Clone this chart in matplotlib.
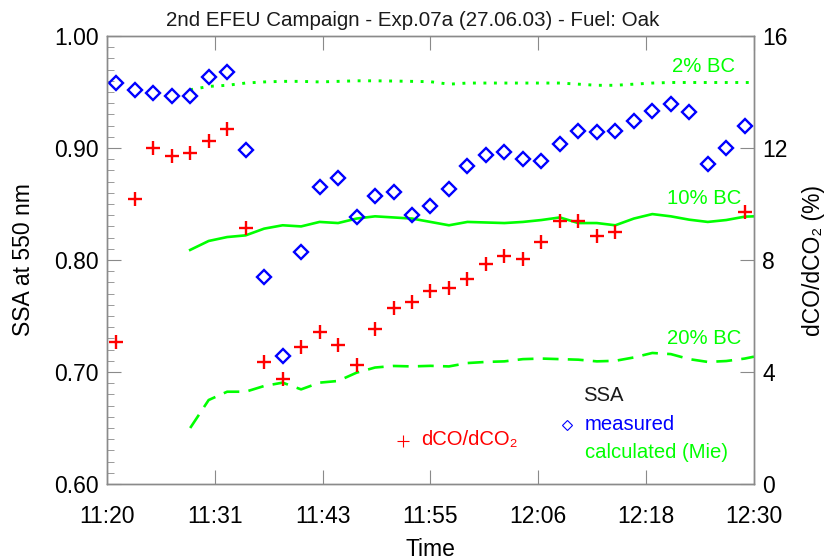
import matplotlib
matplotlib.use("Agg")
import matplotlib.pyplot as plt
import numpy as np

plt.rcParams['font.family'] = ['Liberation Sans', 'DejaVu Sans']

# time in minutes after 11:20
t_meas = [1, 3, 5, 7, 9, 11, 13, 15, 17, 19, 21, 23, 25, 27, 29, 31, 33, 35,
          37, 39, 41, 43, 45, 47, 49, 51, 53, 55, 57, 59, 61, 63, 65, 67, 69]
ssa_meas = [0.958, 0.952, 0.949, 0.946, 0.946, 0.963, 0.968, 0.898, 0.785, 0.714,
            0.807, 0.865, 0.873, 0.838, 0.857, 0.861, 0.840, 0.848, 0.863, 0.884,
            0.894, 0.896, 0.890, 0.888, 0.904, 0.915, 0.914, 0.915, 0.924, 0.933,
            0.939, 0.932, 0.886, 0.900, 0.920]

t_ratio = [1, 3, 5, 7, 9, 11, 13, 15, 17, 19, 21, 23, 25, 27, 29, 31, 33, 35,
           37, 39, 41, 43, 45, 47, 49, 51, 53, 55, 69]
co_ratio = [5.06, 10.17, 11.99, 11.71, 11.81, 12.26, 12.68, 9.13, 4.37, 3.74,
            4.88, 5.44, 4.96, 4.25, 5.54, 6.27, 6.51, 6.90, 7.00, 7.32,
            7.85, 8.15, 8.04, 8.63, 9.40, 9.40, 8.87, 9.01, 9.73]

t_mie = [9, 11, 13, 15, 17, 19, 21, 23, 25, 27, 29, 31, 33, 35, 37, 39, 41, 43,
         45, 47, 49, 51, 53, 55, 57, 59, 61, 63, 65, 67, 69, 70]
mie_2 = [0.952, 0.955, 0.956, 0.958, 0.959, 0.9595, 0.9595, 0.959, 0.9595, 0.960,
         0.960, 0.9598, 0.9595, 0.9592, 0.957, 0.958, 0.958, 0.958, 0.958, 0.958,
         0.958, 0.957, 0.956, 0.956, 0.957, 0.958, 0.9585, 0.9585, 0.9585, 0.9585,
         0.9585, 0.9585]
mie_10 = [0.809, 0.817, 0.8205, 0.822, 0.828, 0.831, 0.830, 0.834, 0.833, 0.837,
          0.839, 0.838, 0.837, 0.834, 0.831, 0.834, 0.8335, 0.833, 0.834, 0.8357,
          0.838, 0.833, 0.833, 0.831, 0.837, 0.841, 0.839, 0.836, 0.834, 0.8357,
          0.8387, 0.839]
mie_20 = [0.650, 0.675, 0.6824, 0.6824, 0.6875, 0.6905, 0.6845, 0.6905, 0.692, 0.6994,
          0.704, 0.7054, 0.705, 0.7055, 0.705, 0.708, 0.709, 0.7095, 0.7115, 0.712,
          0.7115, 0.711, 0.7095, 0.710, 0.713, 0.717, 0.716, 0.7115, 0.709, 0.7098,
          0.712, 0.7137]

time_labels = ['11:20', '11:31', '11:43', '11:55', '12:06', '12:18', '12:30']

fig = plt.figure(figsize=(8.25, 5.6), dpi=100)
ax = fig.add_axes([0.1297, 0.1357, 0.7842, 0.8000])
ax2 = ax.twinx()

green = '#00ff00'
ax.plot(t_mie, mie_2, color=green, lw=2.1, linestyle=(0, (1, 2.6)))
ax.plot(t_mie, mie_10, color=green, lw=1.9, linestyle='-')
ax.plot(t_mie, mie_20, color=green, lw=1.9, linestyle=(0, (6, 3.5)))
ax.plot(t_meas, ssa_meas, linestyle='none', marker='D', markersize=7,
        markerfacecolor='none', markeredgecolor='#0000ff', markeredgewidth=1.7)

ax2.plot(t_ratio, co_ratio, linestyle='none', marker='+', markersize=9.5,
         color='#ff0000', markeredgewidth=1.7)

ax.set_xlim(0, 70)
ax.set_ylim(0.6, 1.0)
ax2.set_ylim(0, 16)

ax.set_xticks(np.linspace(0, 70, 7))
ax.set_xticklabels(time_labels)
ax.set_yticks([0.6, 0.7, 0.8, 0.9, 1.0])
ax.set_yticklabels(['0.60', '0.70', '0.80', '0.90', '1.00'])
ax.set_yticks(np.arange(0.6, 1.0001, 0.01), minor=True)
ax2.set_yticks([0, 4, 8, 12, 16])

spine_c = '#8a8a8a'
for a in (ax, ax2):
    for s in a.spines.values():
        s.set_color(spine_c)
        s.set_linewidth(1.0)
ax.tick_params(axis='x', which='major', direction='in', top=True, length=10,
               color=spine_c, labelsize=16.5, pad=15)
ax.tick_params(axis='y', which='major', direction='in', right=False, length=10,
               color=spine_c, labelsize=16.5, pad=6)
ax.tick_params(axis='y', which='minor', direction='in', right=False, length=5,
               color=spine_c)
ax2.tick_params(axis='y', which='major', direction='in', length=10,
                color=spine_c, labelsize=16.5, pad=6)

ax.set_xlabel('Time', fontsize=16.5, labelpad=7)
ax.set_ylabel('SSA at 550 nm', fontsize=16.5, labelpad=14)
ax2.set_ylabel('dCO/dCO\u2082 (%)', fontsize=16.5, labelpad=10)
fig.text(0.5, 0.964, '2nd EFEU Campaign - Exp.07a (27.06.03) - Fuel: Oak',
         fontsize=14.8, ha='center', va='center', color='#1a1a1a')

ax.text(61.1, 0.973, '2% BC', color=green, fontsize=14.6, va='center')
ax.text(60.6, 0.855, '10% BC', color=green, fontsize=14.6, va='center')
ax.text(60.6, 0.730, '20% BC', color=green, fontsize=14.6, va='center')

ax.text(51.5, 0.679, 'SSA', color='#1a1a1a', fontsize=14.6, va='center')
ax.plot([49.8], [0.6527], linestyle='none', marker='D', markersize=5,
        markerfacecolor='none', markeredgecolor='#0000ff', markeredgewidth=0.8)
ax.text(51.7, 0.6527, 'measured', color='#0000ff', fontsize=14.6, va='center')
ax.text(51.7, 0.6277, 'calculated (Mie)', color=green, fontsize=14.6, va='center')
ax.plot([32.0], [0.638], linestyle='none', marker='+', markersize=9,
        color='#ff0000', markeredgewidth=0.8)
ax.text(34.0, 0.640, 'dCO/dCO\u2082', color='#ff0000', fontsize=14.6, va='center')

fig.savefig('out.png', dpi=100)
